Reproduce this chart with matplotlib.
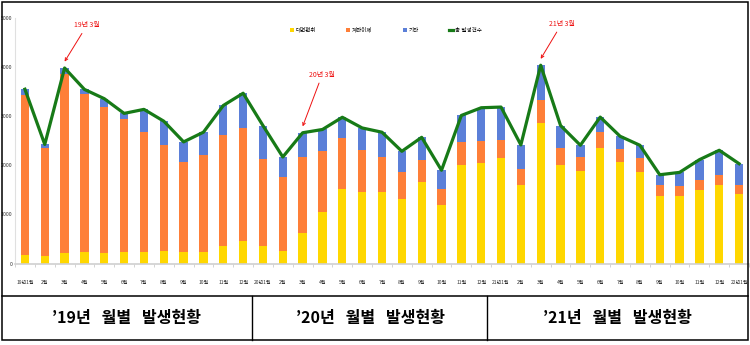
import numpy as np
import matplotlib
matplotlib.use('Agg')
import matplotlib.pyplot as plt
from matplotlib.patches import Rectangle
from matplotlib.lines import Line2D

plt.rcParams['font.family'] = ['Noto Sans CJK KR', 'DejaVu Sans']

# 월 라벨 (19년1월 ~ 22년1월)
months = ['19년1월'] + ['%d월' % m for m in range(2, 13)] \
    + ['20년1월'] + ['%d월' % m for m in range(2, 13)] \
    + ['21년1월'] + ['%d월' % m for m in range(2, 13)] + ['22년1월']

# 유형별 발생건수
daemyeon = np.array([180, 160, 210, 230, 220, 240, 240, 265, 240, 240, 360, 460,
                     360, 260, 630, 1060, 1520, 1460, 1455, 1325, 1665, 1190, 2015, 2042,
                     2158, 1605, 2875, 2001, 1885, 2356, 2069, 1865, 1386, 1386, 1503, 1605,
                     1421])
gyejwa = np.array([3257, 2199, 3647, 3224, 2971, 2698, 2438, 2145, 1837, 1974, 2254, 2308,
                   1776, 1502, 1537, 1243, 1038, 860, 710, 533, 450, 335, 464, 451,
                   369, 328, 451, 362, 287, 321, 274, 280, 205, 185, 191, 205,
                   170])
gita = np.array([117, 69, 130, 96, 170, 123, 465, 492, 403, 464, 608, 704,
                 676, 410, 499, 430, 424, 444, 512, 430, 458, 376, 540, 683,
                 663, 485, 717, 451, 239, 308, 252, 266, 219, 287, 423, 499,
                 444])
total = daemyeon + gyejwa + gita

labels = ['대면편취', '계좌이체', '기타', '총 발생건수']
colors = ['#ffd700', '#fe7f38', '#5b7fd8']
line_color = '#177a17'

# 강조 표시 (인덱스, 문구)
notes = [(2, '19년 3월'), (14, '20년 3월'), (26, '21년 3월')]
note_off = [(16, 26), (14, 37), (15, 25)]

# 하단 표 문구
table_text = ['’19년   월별   발생현황', '’20년   월별   발생현황', '’21년   월별   발생현황']

fig = plt.figure(figsize=(7.5, 3.45), dpi=100)
ax = fig.add_axes([15 / 750, (345 - 263.5) / 345, 734 / 750, (263.5 - 18.3) / 345])

x = np.arange(len(months))
w = 0.42
b1 = ax.bar(x, daemyeon, w, color=colors[0], label=labels[0], zorder=2)
b2 = ax.bar(x, gyejwa, w, bottom=daemyeon, color=colors[1], label=labels[1], zorder=2)
b3 = ax.bar(x, gita, w, bottom=daemyeon + gyejwa, color=colors[2], label=labels[2], zorder=2)
ln, = ax.plot(x, total, color=line_color, lw=2.3, label=labels[3], zorder=3)

ax.set_xlim(-0.5, 36.4)
ax.set_ylim(0, 5000)
ax.set_yticks(range(0, 5001, 1000))
ax.set_xticks(x)
ax.set_xticklabels(months, fontsize=3.6, color='#333333')
ax.set_xticks(np.arange(-0.5, 37, 1), minor=True)
ax.tick_params(axis='x', which='major', length=0, pad=12)
ax.tick_params(axis='x', which='minor', length=2.5, color='#cccccc', width=0.6)
ax.tick_params(axis='y', length=0, pad=2, labelsize=3.8, labelcolor='#333333')
for s in ['top', 'right']:
    ax.spines[s].set_visible(False)
ax.spines['left'].set_color('#e0e0e0')
ax.spines['bottom'].set_color('#d0d0d0')
ax.spines['bottom'].set_linewidth(1.2)

for (i, txt), off in zip(notes, note_off):
    ax.annotate(txt, xy=(i, total[i] + 130), xytext=off, textcoords='offset points',
                ha='center', va='center', fontsize=5, color='#ee1111',
                arrowprops=dict(arrowstyle='->', color='#ee1111', lw=0.7,
                                shrinkA=1, shrinkB=0, mutation_scale=5),
                annotation_clip=False)

ax.legend([b1, b2, b3, ln], labels, loc='upper center', bbox_to_anchor=(0.505, 0.985),
          ncol=4, frameon=False, fontsize=4, handlelength=0.7, handleheight=0.7,
          columnspacing=5.5, handletextpad=0.3)

# 외곽선 및 하단 표
fig.add_artist(Rectangle((2 / 750, 5 / 345), 746 / 750, 338 / 345, transform=fig.transFigure,
                         fill=False, edgecolor='black', lw=1.1))
ty = (345 - 296) / 345
by = (345 - 340) / 345
fig.add_artist(Line2D([2 / 750, 748 / 750], [ty, ty], transform=fig.transFigure,
                      color='black', lw=1.1))
for xv in [252, 487]:
    fig.add_artist(Line2D([xv / 750, xv / 750], [by, ty], transform=fig.transFigure,
                          color='black', lw=1.0))
for cx, t in zip([127, 370, 617], table_text):
    fig.text(cx / 750, (345 - 318) / 345, t, ha='center', va='center',
             fontsize=11.5, fontweight='bold', color='black')

plt.savefig('out.png', dpi=100)
